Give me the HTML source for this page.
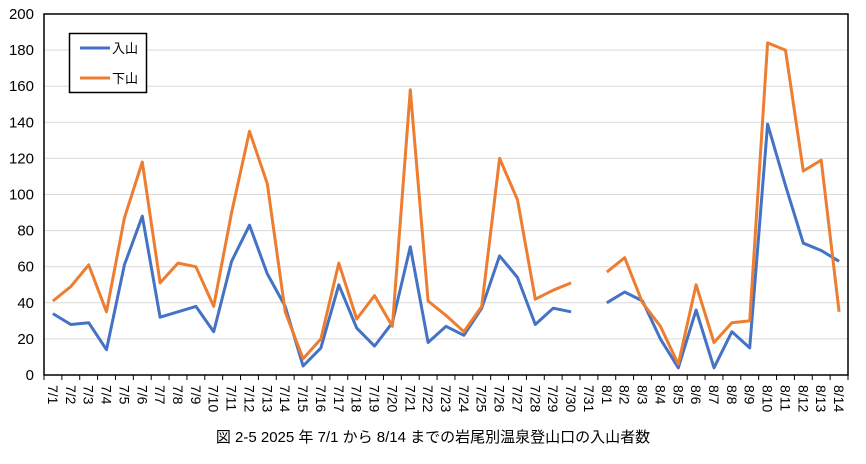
<!DOCTYPE html>
<html><head><meta charset="utf-8"><style>
body{margin:0;background:#fff}
svg text{font-family:"Liberation Sans","Noto Sans CJK JP",sans-serif}
</style></head><body>
<svg width="866" height="459" xmlns="http://www.w3.org/2000/svg">
<g id="grid" stroke="#d9d9d9" stroke-width="1"></g>
<rect x="44" y="14" width="804" height="361" fill="none" stroke="#000" stroke-width="1.5"/>
<g id="ylab" font-size="15" text-anchor="end"></g>
<g id="xt" stroke="#000" stroke-width="1"></g>
<g id="xl" font-size="14"></g>
<g id="lines" fill="none" stroke-width="3" stroke-linejoin="round"></g>
<rect x="69.5" y="33.5" width="77" height="59" fill="#fff" stroke="#000" stroke-width="1.5"/>
<line x1="80" y1="48" x2="110" y2="48" stroke="#4472c4" stroke-width="3"/>
<text x="112" y="53" font-size="13">入山</text>
<line x1="80" y1="78" x2="110" y2="78" stroke="#ed7d31" stroke-width="3"/>
<text x="112" y="83" font-size="13">下山</text>
<text x="433" y="442" font-size="15" text-anchor="middle">図 2-5  2025 年 7/1 から 8/14 までの岩尾別温泉登山口の入山者数</text>
</svg>
<script>
const ns="http://www.w3.org/2000/svg";
function el(t,a,p,txt){const e=document.createElementNS(ns,t);for(const k in a)e.setAttribute(k,a[k]);if(txt!==undefined)e.textContent=txt;document.getElementById(p).appendChild(e);}
const x0=44,w=804,y0=375,h=361,n=45,dx=w/n;
const Y=v=>y0-v*h/200;
for(let v=0;v<=200;v+=20){if(v>0&&v<200)el('line',{x1:x0,x2:x0+w,y1:Y(v),y2:Y(v)},'grid');el('text',{x:34,y:Y(v)+5},'ylab',v);}
const labs=[];for(let i=1;i<=31;i++)labs.push('7/'+i);for(let i=1;i<=14;i++)labs.push('8/'+i);
for(let i=0;i<=n;i++){const x=x0+i*dx;el('line',{x1:x,x2:x,y1:375,y2:380},'xt');}
labs.forEach((l,i)=>{const x=x0+(i+0.5)*dx;el('text',{x:0,y:0,transform:`translate(${x-5},385) rotate(90)`},'xl',l);});
const a=[34,28,29,14,61,88,32,35,38,24,63,83,56,38,5,15,50,26,16,29,71,18,27,22,37,66,54,28,37,35,null,40,46,41,20,4,36,4,24,15,139,105,73,69,63];
const b=[41,49,61,35,87,118,51,62,60,38,90,135,106,35,9,20,62,31,44,27,158,41,33,24,38,120,97,42,47,51,null,57,65,40,27,6,50,18,29,30,184,180,113,119,35];
function draw(d,c){let p='',m=true;d.forEach((v,i)=>{if(v===null){m=true;return;}p+=(m?'M':'L')+(x0+(i+0.5)*dx).toFixed(1)+' '+Y(v).toFixed(1)+' ';m=false;});el('path',{d:p,stroke:c},'lines');}
draw(a,'#4472c4');draw(b,'#ed7d31');
</script>
</body></html>
